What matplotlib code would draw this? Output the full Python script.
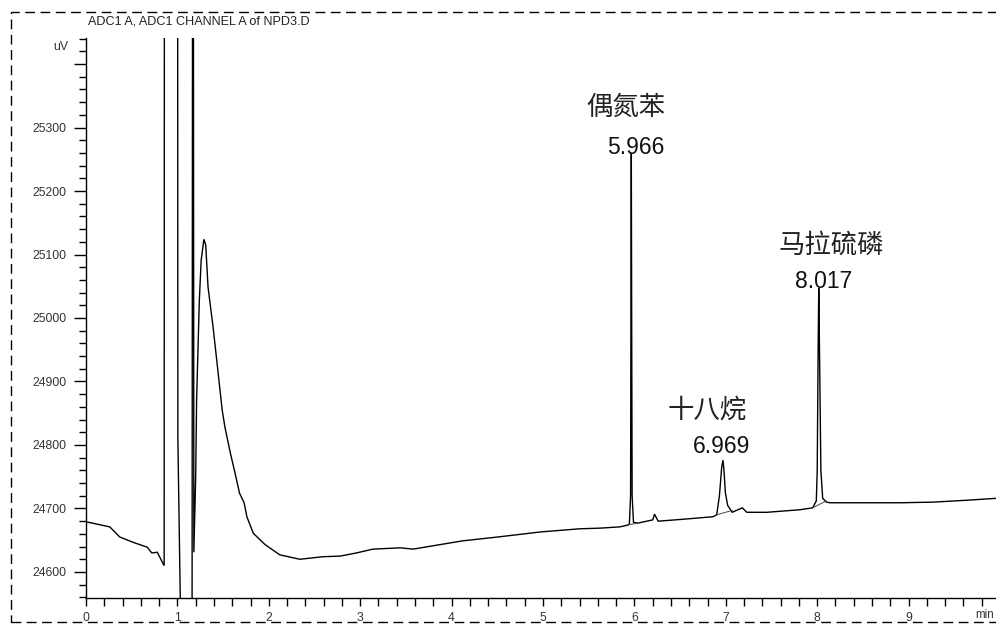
import matplotlib
matplotlib.use("Agg")
import matplotlib.pyplot as plt
from matplotlib.ticker import MultipleLocator, FixedLocator
from matplotlib.patches import Rectangle

# ---------------- data ----------------
time_min = [0.00, 0.10, 0.26, 0.37, 0.51, 0.67, 0.72, 0.78, 0.84, 0.855,
            0.86, 1.00, 1.005, 1.03, 1.05, 1.16, 1.17, 1.18,
            1.20, 1.21, 1.24, 1.26, 1.29, 1.31, 1.335, 1.39, 1.43, 1.49, 1.52,
            1.58, 1.63, 1.68, 1.73, 1.76, 1.83, 1.96, 2.12, 2.34, 2.59, 2.78,
            2.96, 3.14, 3.44, 3.58, 3.87, 4.12, 4.50, 4.97, 5.40, 5.62, 5.84,
            5.93, 5.945, 5.958, 5.962, 5.966, 5.970, 5.975, 5.99, 6.04,
            6.20, 6.22, 6.26, 6.53, 6.86, 6.90, 6.93, 6.955, 6.969, 6.98,
            6.995, 7.02, 7.07, 7.18, 7.23, 7.45, 7.81, 7.95, 7.99, 8.00,
            8.010, 8.017, 8.025, 8.04, 8.06, 8.10, 8.14, 8.25, 8.91, 9.27,
            9.64, 9.96]
signal_uv = [24679, 24676, 24671, 24655, 24647, 24639, 24630, 24631, 24614, 24610,
             26500, 26500, 24811, 24572, 24400, 24400, 26500, 24631,
             24750, 24871, 25028, 25091, 25124, 25115, 25049, 24986, 24934, 24855, 24828,
             24787, 24756, 24724, 24709, 24687, 24661, 24643, 24627, 24620, 24624, 24625,
             24630, 24636, 24638, 24636, 24643, 24649, 24655, 24663, 24668, 24669, 24671,
             24674, 24676, 24720, 25000, 25260, 25000, 24720, 24678, 24677,
             24682, 24691, 24680, 24683, 24687, 24690, 24720, 24765, 24776, 24760,
             24725, 24705, 24694, 24701, 24694, 24694, 24698, 24701, 24712, 24760,
             24950, 25047, 24950, 24760, 24716, 24710, 24709, 24709, 24709, 24710,
             24713, 24716]

# integration baselines drawn under peaks (start, end)
base_t0 = [5.93, 6.90, 7.95]
base_v0 = [24674, 24690, 24701]
base_t1 = [6.04, 7.07, 8.10]
base_v1 = [24677, 24697, 24712]

peak_rt = ["5.966", "6.969", "8.017"]
peak_names = ["偶氮苯", "十八烷", "马拉硫磷"]
# label anchor positions (time, value) for name and retention time
name_pos_t = [5.47, 6.36, 7.58]
name_pos_v = [25331, 24855, 25115]
rt_pos_t = [5.70, 6.64, 7.76]
rt_pos_v = [25269, 24797, 25058]

y_major = [24600, 24700, 24800, 24900, 25000, 25100, 25200, 25300, 25400]
y_labels = ["24600", "24700", "24800", "24900", "25000", "25100", "25200", "25300", ""]
x_major = [0, 1, 2, 3, 4, 5, 6, 7, 8, 9]
x_labels = ["0", "1", "2", "3", "4", "5", "6", "7", "8", "9"]

title_text = "ADC1 A, ADC1 CHANNEL A of NPD3.D"
y_unit = "uV"
x_unit = "min"

# ---------------- figure ----------------
W, H = 996, 627
fig = plt.figure(figsize=(W / 100, H / 100), dpi=100)
fig.patch.set_facecolor("white")

ax = fig.add_axes([86 / W, (H - 598) / H, (996 - 86) / W, (598 - 38) / H])
ax.set_xlim(0, 9.956)
ax.set_ylim(24559, 25441)

ax.plot(time_min, signal_uv, color="black", lw=1.0, solid_joinstyle="miter")
for t0, v0, t1, v1 in zip(base_t0, base_v0, base_t1, base_v1):
    ax.plot([t0, t1], [v0, v1], color="#444444", lw=0.7)

for s in ["top", "right"]:
    ax.spines[s].set_visible(False)
ax.spines["left"].set_linewidth(1.0)
ax.spines["bottom"].set_linewidth(1.0)

ax.yaxis.set_major_locator(FixedLocator(y_major))
ax.set_yticklabels(y_labels)
ax.yaxis.set_minor_locator(MultipleLocator(20))
ax.xaxis.set_major_locator(FixedLocator(x_major))
ax.set_xticklabels(x_labels)
ax.xaxis.set_minor_locator(MultipleLocator(0.2))

ax.tick_params(axis="y", which="major", direction="out", length=9, width=1.0,
               labelsize=8.8, pad=5, labelcolor="#333333")
ax.tick_params(axis="y", which="minor", direction="out", length=5, width=1.0)
ax.tick_params(axis="x", which="major", direction="out", length=6, width=1.0,
               labelsize=8.8, pad=4, labelcolor="#333333")
ax.tick_params(axis="x", which="minor", direction="out", length=6, width=1.0)
for lab in ax.get_xticklabels() + ax.get_yticklabels():
    lab.set_fontfamily("Liberation Sans")

# unit labels
fig.text(68 / W, 1 - 47 / H, y_unit, ha="right", va="center", fontsize=8.8,
         color="#333333", family="Liberation Sans")
fig.text(994 / W, 1 - 615 / H, x_unit, ha="right", va="center", fontsize=8.4,
         color="#333333", family="Liberation Sans")

# title
fig.text(88 / W, 1 - 22 / H, title_text, ha="left", va="center", fontsize=9.1,
         color="#222222", family="Liberation Sans")

# peak annotations
for name, rt, nt, nv, rtt, rtv in zip(peak_names, peak_rt, name_pos_t, name_pos_v,
                                      rt_pos_t, rt_pos_v):
    ax.text(nt, nv, name, ha="left", va="center", fontsize=19,
            family=["Noto Sans CJK SC", "DejaVu Sans"], color="#222222", clip_on=False)
    ax.text(rtt, rtv, rt, ha="left", va="center", fontsize=16.5,
            family="Liberation Sans", color="#111111", clip_on=False)

# dashed outer frame
frame = Rectangle((11 / W, 1 - 622 / H), (1200 - 11) / W, (622 - 12) / H,
                  transform=fig.transFigure, fill=False, edgecolor="black",
                  lw=1.0, linestyle=(0, (7, 4)), clip_on=False)
fig.patches.append(frame)

fig.savefig("out.png", dpi=100)
